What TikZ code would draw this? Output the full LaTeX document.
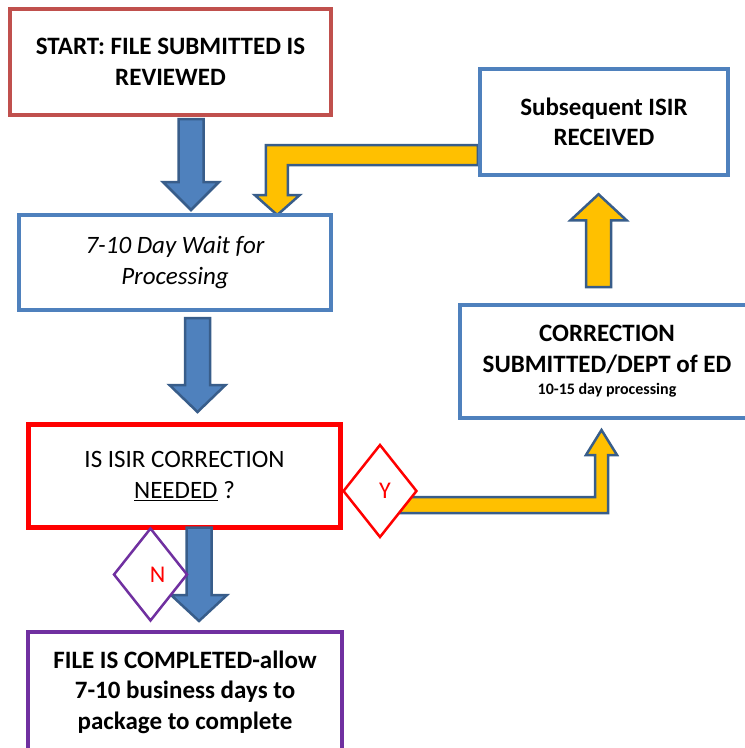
\documentclass[tikz,border=0pt]{standalone}
\usepackage{fontspec}
\setmainfont{Carlito}
\usetikzlibrary{shapes.geometric,calc}

\definecolor{startred}{HTML}{C0504D}
\definecolor{boxblue}{HTML}{4F81BD}
\definecolor{arrowedge}{HTML}{385D8A}
\definecolor{arrowgold}{HTML}{FFC000}
\definecolor{askred}{HTML}{FF0000}
\definecolor{donepurple}{HTML}{7030A0}

\pgfdeclarelayer{background}
\pgfsetlayers{background,main}

\begin{document}
\begin{tikzpicture}[x=1pt,y=-1pt,
  box/.style={draw, fill=white, line width=4pt, align=center, inner sep=0pt,
    font=\bfseries\fontsize{25}{30.5}\selectfont},
  choice/.style={diamond, draw, fill=white, line width=2.5pt, inner sep=0pt,
    minimum width=74pt, minimum height=93pt, text=askred,
    font=\fontsize{24}{24}\selectfont},
  bluearrow/.style={fill=boxblue, draw=arrowedge, line width=2.5pt},
  goldarrow/.style={fill=arrowgold, draw=arrowedge, line width=2.5pt},
  block/.style={to path={
    ($(\tikztostart)+(-\sw,0)$) -- ($(\tikztotarget)+(-\sw,#1)$)
    -- ($(\tikztotarget)+(-\hw,#1)$) -- (\tikztotarget)
    -- ($(\tikztotarget)+(\hw,#1)$) -- ($(\tikztotarget)+(\sw,#1)$)
    -- ($(\tikztostart)+(\sw,0)$) -- cycle}}]

% Parameters for the block arrows
\def\sw{12.5}
\def\hw{28}

% Page
\useasboundingbox (0,0) rectangle (745,748);
\clip (0,0) rectangle (745,748);

% Boxes
\node[box, draw=startred, minimum width=321pt, minimum height=106pt] (start)
  at (170.5,62) {START: FILE SUBMITTED IS\\REVIEWED};
\node[box, draw=boxblue, font=\itshape\fontsize{25}{30.5}\selectfont,
  minimum width=312pt, minimum height=95pt] (wait)
  at (175,262.5) {7-10 Day Wait for\\Processing};
\node[box, draw=boxblue, line width=4.5pt, minimum width=248pt, minimum height=106pt] (subsequent)
  at (604,122) {Subsequent ISIR\\RECEIVED};
\node[box, draw=boxblue, minimum width=294pt, minimum height=113pt] (correction)
  at (607,361.5) {CORRECTION\\SUBMITTED/DEPT of ED\\[-8pt]{\fontsize{16}{18}\selectfont 10-15 day processing}};
\node[box, draw=askred, line width=5pt, font=\fontsize{25}{30.5}\selectfont,
  minimum width=312pt, minimum height=103pt] (decision)
  at (184.5,476) {IS ISIR CORRECTION\\\underline{NEEDED} ?};
\node[box, draw=donepurple, minimum width=314pt, minimum height=120pt] (final)
  at (185,692) {FILE IS COMPLETED-allow\\7-10 business days to\\package to complete};

% Down arrows
\coordinate (a1s) at ($(start.south)+(20.5,2)$);
\coordinate (a1e) at ($(wait.north)+(16,-3)$);
\draw[bluearrow] (a1s) to[block=-28] (a1e);

\coordinate (a2s) at ($(wait.south)+(22.5,6)$);
\coordinate (a2e) at ($(decision.north)+(13,-10)$);
\draw[bluearrow] (a2s) to[block=-27] (a2e);

\coordinate (a3s) at ($(decision.south)+(14.5,-2.5)$);
\coordinate (a3e) at ($(final.north)+(14,-9)$);
\draw[bluearrow] (a3s) to[block=-26] (a3e);

% Up arrow
\coordinate (a4s) at ($(correction.north)+(-8.5,-16)$);
\coordinate (a4e) at ($(subsequent.south)+(-5.5,17)$);
\draw[goldarrow] (a4s) to[block=26] (a4e);

% Y / N
\node[choice, draw=askred] (ydiam) at (380,491) {\hspace{10pt}Y};
\node[choice, draw=donepurple] (ndiam) at (150.5,574.5) {\hspace{14pt}N};

% Elbow arrows
\begin{pgfonlayer}{background}
\draw[goldarrow] ($(subsequent.west)+(0,23)$) -- ++(-212,0) -- ++(0,50)
  -- ++(-11,0) -- ++(22.5,20) -- ++(22.5,-20) -- ++(-12,0) -- ++(0,-30)
  -- ++(190,0) -- cycle;
\draw[goldarrow] ($(ydiam.center)+(20,6)$) -- ++(195,0) -- ++(0,-42)
  -- ++(-9,0) -- ++(15.5,-25) -- ++(15.5,25) -- ++(-9,0) -- ++(0,58)
  -- ++(-208,0) -- cycle;
\end{pgfonlayer}

\end{tikzpicture}
\end{document}
